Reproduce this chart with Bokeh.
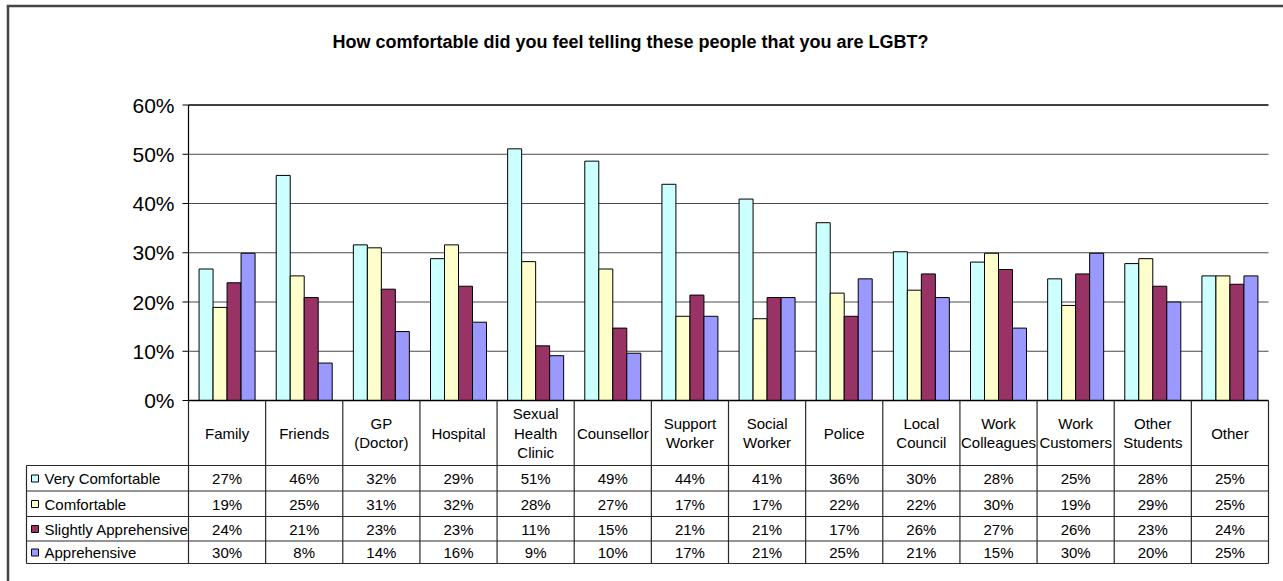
from bokeh.plotting import figure
from bokeh.models import Range1d
from bokeh.core.properties import value
from bokeh.embed import file_html
from bokeh.resources import INLINE

# ---------------- data ----------------
title = "How comfortable did you feel telling these people that you are LGBT?"
categories = ["Family", "Friends", "GP\n(Doctor)", "Hospital", "Sexual\nHealth\nClinic",
              "Counsellor", "Support\nWorker", "Social\nWorker", "Police", "Local\nCouncil",
              "Work\nColleagues", "Work\nCustomers", "Other\nStudents", "Other"]
series_names = ["Very Comfortable", "Comfortable", "Slightly Apprehensive", "Apprehensive"]
very_comfortable = [26.7, 45.7, 31.6, 28.8, 51.1, 48.6, 43.9, 40.9, 36.1, 30.2, 28.1, 24.7, 27.8, 25.3]
comfortable = [18.9, 25.3, 31.0, 31.6, 28.2, 26.7, 17.1, 16.6, 21.8, 22.4, 29.9, 19.3, 28.8, 25.3]
slightly_apprehensive = [23.9, 20.9, 22.6, 23.2, 11.1, 14.7, 21.4, 20.9, 17.1, 25.7, 26.6, 25.7, 23.2, 23.6]
apprehensive = [29.9, 7.6, 14.0, 15.9, 9.1, 9.6, 17.1, 20.9, 24.7, 20.9, 14.7, 29.9, 20.0, 25.3]
y_ticks = [0, 10, 20, 30, 40, 50, 60]
y_tick_labels = ["0%", "10%", "20%", "30%", "40%", "50%", "60%"]

series = [very_comfortable, comfortable, slightly_apprehensive, apprehensive]
colors = ["#CCFFFF", "#FFFFCC", "#993366", "#9999FF"]

# ---------------- layout (canvas pixels -> data coordinates) ----------------
W_PX, H_PX = 1283, 581
PLOT_L, PLOT_R = 188.0, 1268.0
Y0_PX, Y60_PX = 400.0, 104.5
n = len(categories)
CW = (PLOT_R - PLOT_L) / n
SY = (Y0_PX - Y60_PX) / 60.0


def X(px):
    return (px - PLOT_L) / CW


def Y(py):
    return (Y0_PX - py) / SY


FONT = value("Liberation Sans")

p = figure(width=W_PX, height=H_PX, output_backend="svg", toolbar_location=None,
           x_range=Range1d(X(0), X(W_PX)), y_range=Range1d(Y(H_PX), Y(0)),
           x_axis_location=None, y_axis_location=None, min_border=0,
           background_fill_color="white", border_fill_color="white")
p.outline_line_color = None
p.grid.visible = False

# outer chart border (left and top visible)
p.segment(x0=[X(7.5), X(6.3)], y0=[Y(581), Y(5.5)], x1=[X(7.5), X(1283)], y1=[Y(5.5), Y(5.5)],
          line_color="#454545", line_width=2.5)

# title
p.text(x=[X(630)], y=[Y(41)], text=[title], text_font=FONT, text_font_size="18px",
       text_font_style="bold", text_align="center", text_baseline="middle", text_color="black")

# gridlines
inner = [t for t in y_ticks if 0 < t < 60]
p.segment(x0=[0] * len(inner), x1=[n] * len(inner), y0=inner, y1=inner,
          line_color="#4a4a4a", line_width=1)
p.segment(x0=[0], x1=[n], y0=[60], y1=[60], line_color="black", line_width=1.3)

# bars
bw = 14.0 / CW
for k, (vals, col) in enumerate(zip(series, colors)):
    xs = [i + 0.5 + (k - 1.5) * bw for i in range(n)]
    p.vbar(x=xs, top=vals, bottom=0, width=bw, fill_color=col, line_color="black", line_width=1)

# y axis
p.segment(x0=[0], x1=[0], y0=[0], y1=[60], line_color="black", line_width=1.2)
p.segment(x0=[X(182)] * len(y_ticks), x1=[0] * len(y_ticks), y0=y_ticks, y1=y_ticks,
          line_color="black", line_width=1)
p.text(x=[X(174)] * len(y_ticks), y=y_ticks, text=y_tick_labels, text_font=FONT,
       text_font_size="21px", text_align="right", text_baseline="middle", text_color="black")

# data table
row_lines = [465, 490.5, 516, 540.5, 563]
row_centers = [478, 503.5, 528.5, 552]
# x axis / table top
p.segment(x0=[0], x1=[n], y0=[0], y1=[0], line_color="black", line_width=1.3)
# vertical column lines
p.segment(x0=list(range(n + 1)), x1=list(range(n + 1)), y0=[0] * (n + 1),
          y1=[Y(row_lines[-1])] * (n + 1), line_color="#2a2a2a", line_width=1.2)
# left border of legend column
p.segment(x0=[X(26)], x1=[X(26)], y0=[Y(465)], y1=[Y(row_lines[-1])],
          line_color="#2a2a2a", line_width=1.2)
# horizontal row lines
p.segment(x0=[X(26)] * len(row_lines), x1=[n] * len(row_lines),
          y0=[Y(r) for r in row_lines], y1=[Y(r) for r in row_lines],
          line_color="#2a2a2a", line_width=1.2)

# category header labels
hx, hy, ht = [], [], []
for i, c in enumerate(categories):
    lines = c.split("\n")
    m = len(lines)
    for j, ln in enumerate(lines):
        hx.append(i + 0.5)
        hy.append(Y(432.5 + (j - (m - 1) / 2) * 19.5))
        ht.append(ln)
p.text(x=hx, y=hy, text=ht, text_font=FONT, text_font_size="15px", text_align="center",
       text_baseline="middle", text_color="black")

# legend keys and names
p.scatter(x=[X(34.5)] * 4, y=[Y(r) for r in row_centers], marker="square", size=7,
          fill_color=colors, line_color="black", line_width=1)
p.text(x=[X(44)] * 4, y=[Y(r) for r in row_centers], text=series_names, text_font=FONT,
       text_font_size="15px", text_align="left", text_baseline="middle", text_color="black")

# values
for k, vals in enumerate(series):
    p.text(x=[i + 0.5 for i in range(n)], y=[Y(row_centers[k])] * n,
           text=[f"{v:.0f}%" for v in vals], text_font=FONT, text_font_size="15px",
           text_align="center", text_baseline="middle", text_color="black")

open("out.html", "w").write(file_html(p, INLINE))
